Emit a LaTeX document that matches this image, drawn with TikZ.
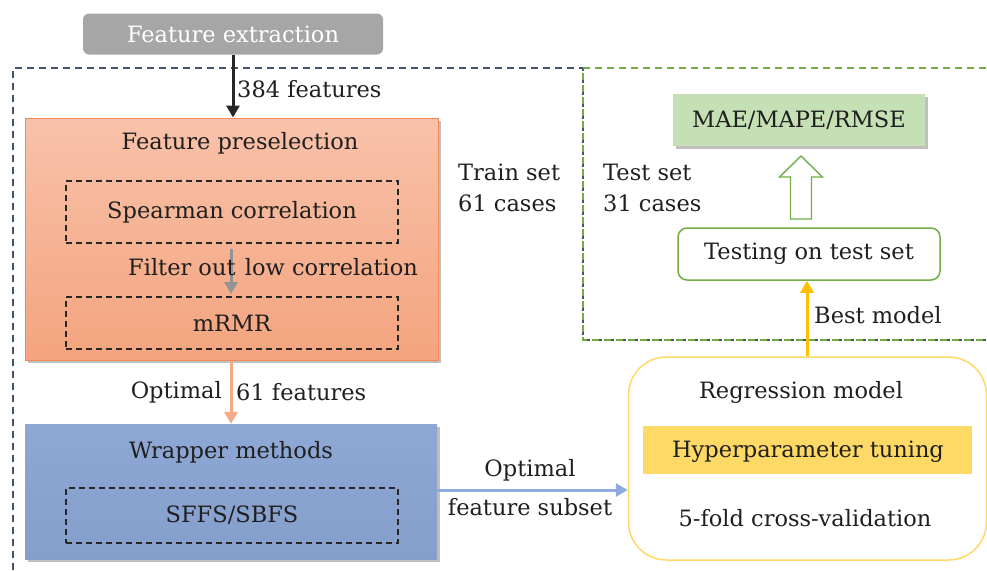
\documentclass[tikz,border=0pt]{standalone}
\usepackage{fontspec}
\setmainfont{DejaVu Serif}
\usetikzlibrary{shadows,arrows.meta}
\definecolor{extgray}{HTML}{A6A6A6}
\definecolor{darkdash}{HTML}{44546A}
\definecolor{greendash}{HTML}{70AD47}
\definecolor{preTop}{HTML}{F8C2AA}
\definecolor{preBot}{HTML}{F4A47E}
\definecolor{preBorder}{HTML}{F08A55}
\definecolor{wrapTop}{HTML}{8EA8D5}
\definecolor{wrapBot}{HTML}{859ECC}
\definecolor{maegreen}{HTML}{C5E0B4}
\definecolor{yelband}{HTML}{FFD966}
\definecolor{yelborder}{HTML}{FFD966}
\definecolor{bestarrow}{HTML}{FFC000}
\definecolor{salmonarrow}{HTML}{F4A988}
\definecolor{bluearrow}{HTML}{8FAADC}
\begin{document}
\begin{tikzpicture}[x=1pt,y=-1pt,
  txt/.style={font=\fontsize{22.5}{27}\selectfont, inner sep=0pt, text=black!88},
  inbox/.style={draw=black!85, line width=1.3pt, dash pattern=on 6pt off 4pt},
  bigdash/.style={line width=1.4pt, dash pattern=on 7pt off 5pt},
  shad/.style={drop shadow={shadow xshift=3pt, shadow yshift=-3pt, opacity=0.25, fill=black}},
  arr/.style={line width=3pt, -{Triangle[width=13pt,length=12pt]}}
]
\useasboundingbox (0,0) rectangle (987,570);
\begin{scope}
\clip (0,0) rectangle (987,570);
\draw[darkdash, bigdash] (13,570) -- (13,68) -- (583,68) -- (583,340) -- (990,340);
\draw[greendash, bigdash] (583,68) -- (995,68) (995,340) -- (583,340) -- (583,68);
\end{scope}

% Feature extraction
\node[fill=extgray, rounded corners=6pt, minimum width=300pt, minimum height=41pt, inner sep=0pt] (fe) at (233,34) {};
\node[txt, text=white] (fetext) at (fe.center) {Feature extraction};

% Feature preselection
\node[shad, draw=preBorder, line width=1pt, top color=preTop, bottom color=preBot, minimum width=413pt, minimum height=242pt, inner sep=0pt] (pre) at (231.5,239) {};
\node[txt] (pretitle) at (240,143) {Feature preselection};
\node[inbox, minimum width=332pt, minimum height=62pt] (spear) at (232,212) {};
\node[txt] (speartext) at (spear.center) {Spearman correlation};
\node[inbox, minimum width=332pt, minimum height=52pt] (mrmr) at (232,323) {};
\node[txt] (mrmrtext) at (mrmr.center) {mRMR};

% Wrapper
\node[shad, top color=wrapTop, bottom color=wrapBot, minimum width=412pt, minimum height=135pt, inner sep=0pt] (wrap) at (231,491.5) {};
\node[txt] (wraptitle) at (231,452) {Wrapper methods};
\node[inbox, minimum width=332pt, minimum height=55pt] (sffs) at (232,515.5) {};
\node[txt] (sffstext) at (sffs.center) {SFFS/SBFS};

% Regression model
\node[draw=yelborder, line width=1.5pt, rounded corners=38pt, minimum width=358pt, minimum height=203pt, inner sep=0pt] (reg) at (807.5,458.5) {};
\node[txt] (regtitle) at (801,392) {Regression model};
\node[fill=yelband, minimum width=329pt, minimum height=48pt, inner sep=0pt] (hyper) at (807.5,450) {};
\node[txt] (hypertext) at (808,452) {Hyperparameter tuning};
\node[txt] (cvtext) at (805,518) {5-fold cross-validation};

% Testing
\node[draw=greendash, line width=1.5pt, fill=white, rounded corners=9pt, minimum width=262pt, minimum height=52pt, inner sep=0pt] (test) at (809,254) {};
\node[txt] (testtext) at (test.center) {Testing on test set};

% MAE
\node[shad, fill=maegreen, minimum width=252pt, minimum height=52pt, inner sep=0pt] (mae) at (799,120) {};
\node[txt] (maetext) at (mae.center) {MAE/MAPE/RMSE};

% hollow block arrow between test and mae
\coordinate (hb) at (801,219);
\coordinate (ht) at (801,156);
\draw[greendash, line width=1.4pt, fill=white, line join=miter]
  ([xshift=-10.5pt]hb) -- ([xshift=-10.5pt]hb |- 0,177) -- ([xshift=-21.5pt]hb |- 0,177)
  -- (ht) -- ([xshift=21.5pt]hb |- 0,177) -- ([xshift=10.5pt]hb |- 0,177) -- ([xshift=10.5pt]hb) -- cycle;

% side labels
\node[txt, anchor=west, align=left] (train) at (458,188) {Train set\\[4pt]61 cases};
\node[txt, anchor=west, align=left] (testset) at (603,188) {Test set\\[4pt]31 cases};

% connectors
\draw[arr, black!85] (fe.south -| 233,0) -- (pre.north -| 233,0);
\node[txt, anchor=west] (l384) at (237,89) {384 features};

\draw[arr, gray!85] (231,249) coordinate (g1) -- (231,294) coordinate (g2);
\node[txt, anchor=west] (filt) at (128,267) {Filter out\hspace{0.1em} low correlation};

\draw[arr, salmonarrow] (pre.south -| 231,0) -- (wrap.north -| 231,0);
\node[txt, anchor=east] (opt1) at (222,392) {Optimal};
\node[txt, anchor=west] (opt2) at (236,392) {61 features};

\draw[arr, bluearrow] (wrap.east |- 0,490) -- (reg.west |- 0,490);
\node[txt] (optsub1) at (530,470) {Optimal};
\node[txt] (optsub2) at (530,507) {feature subset};

\draw[arr, bestarrow] (reg.north -| 807,0) -- (test.south -| 807,0);
\node[txt, anchor=west] (best) at (814,315) {Best model};
\end{tikzpicture}
\end{document}
